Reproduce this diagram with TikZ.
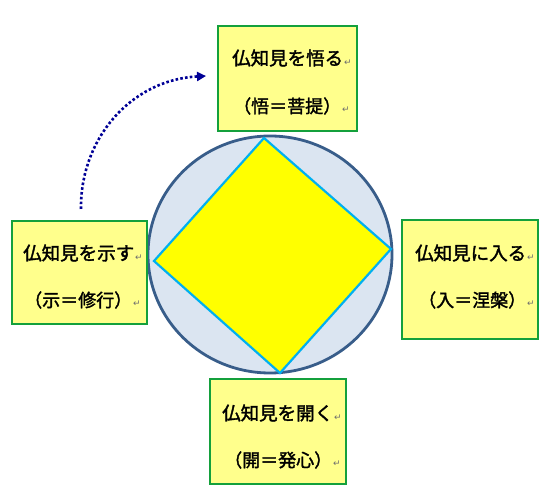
\documentclass[tikz,border=0pt]{standalone}
\usepackage{fontspec}
\setmainfont{Noto Sans CJK JP}
\newfontfamily\cjk[FakeBold=1.8]{Noto Sans CJK JP}
\newfontfamily\retfont{DejaVu Sans}
\usetikzlibrary{arrows.meta,shapes.geometric}
\definecolor{boxfill}{RGB}{255,255,140}
\definecolor{boxline}{RGB}{20,160,60}
\definecolor{circfill}{RGB}{219,229,241}
\definecolor{circline}{RGB}{56,93,138}
\definecolor{diafill}{RGB}{255,255,0}
\definecolor{dialine}{RGB}{0,176,240}
\definecolor{arrowcol}{RGB}{0,0,150}
\definecolor{retcol}{RGB}{110,110,110}
\newcommand{\retmark}{{\retfont\fontsize{9}{10}\selectfont\color{retcol}\kern1pt↵}}
\tikzset{
  textbox/.style={draw=boxline, fill=boxfill, line width=2pt, inner sep=0pt},
  label1/.style={anchor=west, inner sep=0pt, font=\cjk\fontsize{18.5}{22}\selectfont},
  label2/.style={anchor=west, inner sep=0pt, font=\cjk\fontsize{18}{22}\selectfont},
}
\begin{document}
\begin{tikzpicture}[x=1pt,y=-1pt]
\useasboundingbox (0,0) rectangle (555,502);
% circle
\node[draw=circline, fill=circfill, line width=2.8pt, ellipse, inner sep=0pt,
  minimum width=244pt, minimum height=237pt] (circ) at (270,254.5) {};
% diamond
\coordinate (dT) at (264,138);
\coordinate (dR) at (391,249);
\coordinate (dB) at (280,373);
\coordinate (dL) at (154,261);
\draw[draw=dialine, fill=diafill, line width=2.2pt, line join=miter] (dT) -- (dR) -- (dB) -- (dL) -- cycle;
% boxes
\node[textbox, minimum width=139pt, minimum height=105pt] (top) at (287.5,78.5) {};
\node[textbox, minimum width=135pt, minimum height=103pt] (left) at (79.5,272.5) {};
\node[textbox, minimum width=136pt, minimum height=119pt] (right) at (470,279.5) {};
\node[textbox, minimum width=136pt, minimum height=105pt] (bottom) at (278,431.5) {};
% texts
\node[label1] (t1) at (232,58) {仏知見を悟る\retmark};
\node[label2] (t2) at (233,106) {（悟＝菩提）\retmark};
\node[label1] (l1) at (23,253) {仏知見を示す\retmark};
\node[label2] (l2) at (24,300) {（示＝修行）\retmark};
\node[label1] (r1) at (415,253) {仏知見に入る\retmark};
\node[label2] (r2) at (418,300) {（入＝涅槃）\retmark};
\node[label1] (b1) at (222,413) {仏知見を開く\retmark};
\node[label2] (b2) at (224,460) {（開＝発心）\retmark};
% arrow
\coordinate (aS) at (81,209);
\coordinate (aE) at (206,76);
\draw[arrowcol, line width=2.6pt, dash pattern=on 2.6pt off 2.2pt,
  -{Triangle[length=9pt,width=9pt]}]
  (aS) .. controls (80,140) and (130,80) .. (aE);
\end{tikzpicture}
\end{document}
